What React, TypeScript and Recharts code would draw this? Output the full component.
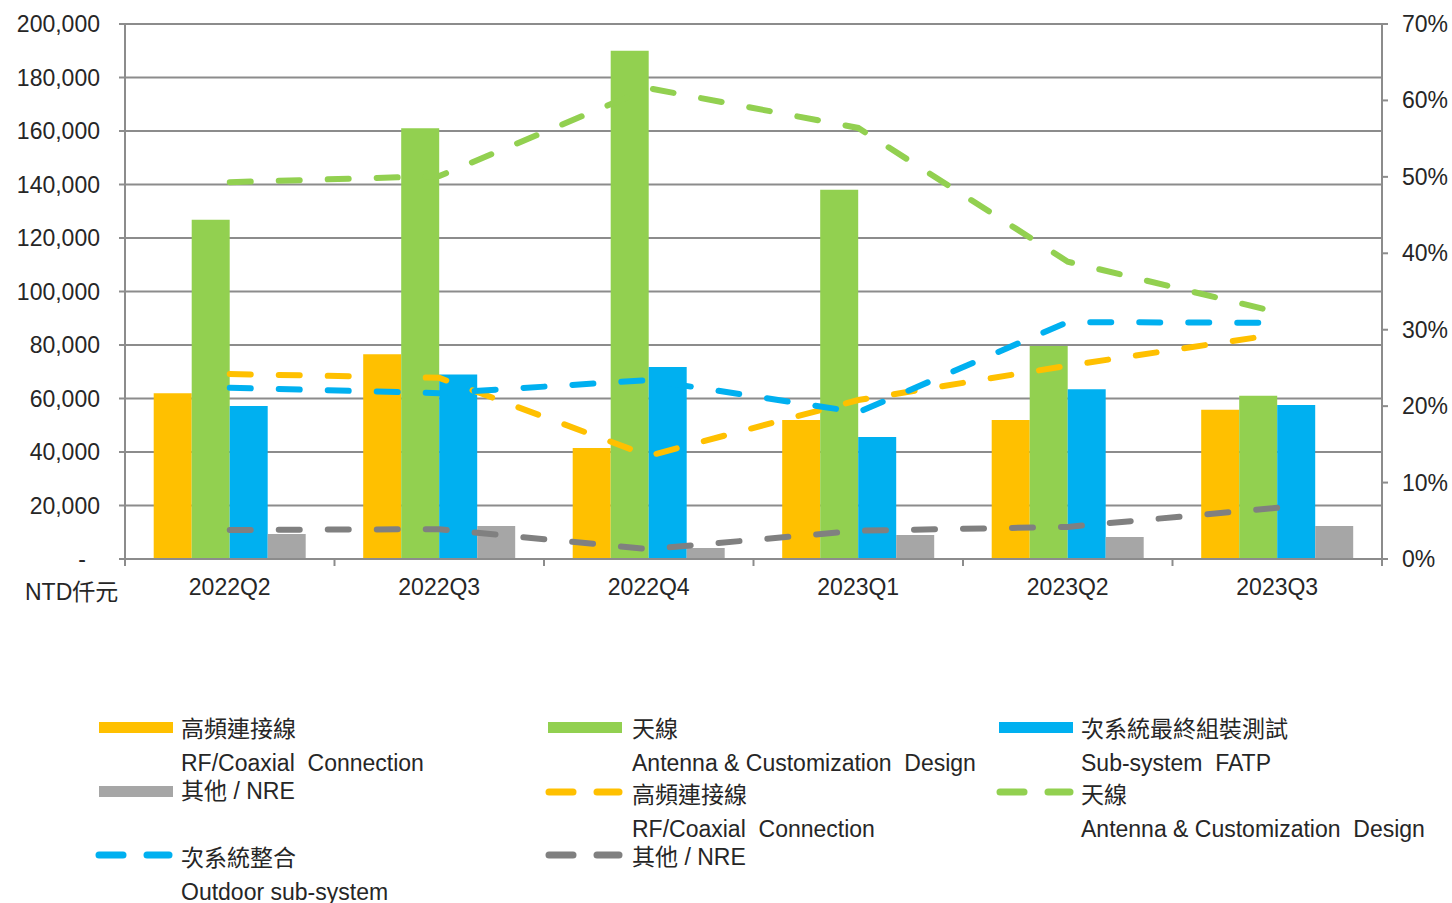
import React from "react";
import {
  ComposedChart,
  Bar,
  Line,
  XAxis,
  YAxis,
  CartesianGrid,
} from "recharts";

const quarters = ["2022Q2", "2022Q3", "2022Q4", "2023Q1", "2023Q2", "2023Q3"];

// revenue, NTD thousand
const rfRevenue = [62000, 76500, 41500, 52000, 52000, 55800];
const antennaRevenue = [126800, 161000, 190000, 138000, 79600, 61000];
const fatpRevenue = [57200, 69000, 71800, 45600, 63500, 57600];
const otherRevenue = [9300, 12300, 4100, 9000, 8200, 12300];

// share of total
const rfShare = [0.242, 0.237, 0.135, 0.208, 0.253, 0.294];
const antennaShare = [0.493, 0.501, 0.616, 0.564, 0.389, 0.323];
const outdoorShare = [0.224, 0.217, 0.234, 0.192, 0.31, 0.309];
const otherShare = [0.038, 0.039, 0.013, 0.037, 0.042, 0.067];

const leftTicks = [0, 20000, 40000, 60000, 80000, 100000, 120000, 140000, 160000, 180000, 200000];
const rightTicks = [0, 0.1, 0.2, 0.3, 0.4, 0.5, 0.6, 0.7];

const data = quarters.map((q, i) => ({
  quarter: q,
  rf: rfRevenue[i],
  antenna: antennaRevenue[i],
  fatp: fatpRevenue[i],
  other: otherRevenue[i],
  rfPct: rfShare[i],
  antennaPct: antennaShare[i],
  outdoorPct: outdoorShare[i],
  otherPct: otherShare[i],
}));

const ORANGE = "#FFC000";
const GREEN = "#92D050";
const BLUE = "#00B0F0";
const GRAY_BAR = "#A6A6A6";
const GRAY_LINE = "#808080";
const GRID = "#8C8C8C";
const TEXT = "#262626";
const FONT = '"Liberation Sans", Arial, "Noto Sans CJK TC", sans-serif';
const FS = 23;

const W = 1452;
const H = 620;
const LEFT_W = 125;
const RIGHT_W = 70;
const BAND = (W - LEFT_W - RIGHT_W) / quarters.length;

const XTick = (props: any) => {
  const { x, y, payload, index } = props;
  const last = index === quarters.length - 1;
  return (
    <g>
      <line x1={x - BAND / 2} y1={y} x2={x - BAND / 2} y2={y + 7} stroke={GRID} strokeWidth={2} />
      {last && (
        <line x1={x + BAND / 2} y1={y} x2={x + BAND / 2} y2={y + 7} stroke={GRID} strokeWidth={2} />
      )}
      <text x={x} y={y + 28} textAnchor="middle" dominantBaseline="central" fill={TEXT} fontSize={FS} fontFamily={FONT}>
        {payload.value}
      </text>
    </g>
  );
};

const LeftTick = (props: any) => {
  const { x, y, payload } = props;
  const v = payload.value;
  return (
    <text x={v === 0 ? x - 14 : x} y={y} textAnchor="end" dominantBaseline="central" fill={TEXT} fontSize={FS} fontFamily={FONT}>
      {v === 0 ? "-" : v.toLocaleString("en-US")}
    </text>
  );
};

const RightTick = (props: any) => {
  const { x, y, payload } = props;
  return (
    <text x={x} y={y} textAnchor="start" dominantBaseline="central" fill={TEXT} fontSize={FS} fontFamily={FONT}>
      {Math.round(payload.value * 100) + "%"}
    </text>
  );
};

const Swatch = ({ color, dashed }: { color: string; dashed?: boolean }) =>
  dashed ? (
    <svg width={78} height={8} style={{ display: "block" }}>
      <line x1={4} y1={4} x2={28} y2={4} stroke={color} strokeWidth={7} strokeLinecap="round" />
      <line x1={52} y1={4} x2={74} y2={4} stroke={color} strokeWidth={7} strokeLinecap="round" />
    </svg>
  ) : (
    <div style={{ width: 74, height: 11, background: color }} />
  );

const LegendItem = ({
  sx, sy, tx, ty, color, dashed, lines,
}: {
  sx: number; sy: number; tx: number; ty: number; color: string; dashed?: boolean; lines: string[];
}) => (
  <>
    <div style={{ position: "absolute", left: sx, top: sy - (dashed ? 4 : 5) }}>
      <Swatch color={color} dashed={dashed} />
    </div>
    <div
      style={{
        position: "absolute",
        left: tx,
        top: ty - 17,
        fontSize: FS,
        lineHeight: "34px",
        color: TEXT,
        fontFamily: FONT,
        whiteSpace: "pre",
      }}
    >
      {lines.map((l) => (
        <div key={l}>{l}</div>
      ))}
    </div>
  </>
);

const App = () => {
  return (
    <div style={{ position: "absolute", left: 0, top: 0, width: W, height: 903, background: "#fff", fontFamily: FONT }}>
      <ComposedChart
        width={W}
        height={H}
        data={data}
        margin={{ top: 24, right: 0, bottom: 21, left: 0 }}
        barCategoryGap="13.7%"
        barGap={0}
      >
        <CartesianGrid yAxisId="left" vertical={false} stroke={GRID} strokeWidth={2} />
        <XAxis
          dataKey="quarter"
          height={40}
          axisLine={{ stroke: GRID, strokeWidth: 2 }}
          tickLine={false}
          tickSize={0}
          tickMargin={0}
          tick={<XTick />}
          interval={0}
        />
        <YAxis
          yAxisId="left"
          width={LEFT_W}
          domain={[0, 200000]}
          ticks={leftTicks}
          interval={0}
          axisLine={{ stroke: GRID, strokeWidth: 2 }}
          tickLine={{ stroke: GRID, strokeWidth: 2 }}
          tickSize={6}
          tickMargin={19}
          tick={<LeftTick />}
        />
        <YAxis
          yAxisId="right"
          orientation="right"
          width={RIGHT_W}
          domain={[0, 0.7]}
          ticks={rightTicks}
          interval={0}
          axisLine={{ stroke: GRID, strokeWidth: 2 }}
          tickLine={{ stroke: GRID, strokeWidth: 2 }}
          tickSize={6}
          tickMargin={14}
          tick={<RightTick />}
        />
        <Bar yAxisId="left" dataKey="rf" fill={ORANGE} isAnimationActive={false} />
        <Bar yAxisId="left" dataKey="antenna" fill={GREEN} isAnimationActive={false} />
        <Bar yAxisId="left" dataKey="fatp" fill={BLUE} isAnimationActive={false} />
        <Bar yAxisId="left" dataKey="other" fill={GRAY_BAR} isAnimationActive={false} />
        <Line yAxisId="right" type="linear" dataKey="rfPct" stroke={ORANGE} strokeWidth={6} strokeDasharray="21 28" strokeLinecap="round" dot={false} isAnimationActive={false} />
        <Line yAxisId="right" type="linear" dataKey="antennaPct" stroke={GREEN} strokeWidth={6} strokeDasharray="21 28" strokeLinecap="round" dot={false} isAnimationActive={false} />
        <Line yAxisId="right" type="linear" dataKey="outdoorPct" stroke={BLUE} strokeWidth={6} strokeDasharray="21 28" strokeLinecap="round" dot={false} isAnimationActive={false} />
        <Line yAxisId="right" type="linear" dataKey="otherPct" stroke={GRAY_LINE} strokeWidth={6} strokeDasharray="21 28" strokeLinecap="round" dot={false} isAnimationActive={false} />
      </ComposedChart>

      <div style={{ position: "absolute", left: 25, top: 578, fontSize: FS, color: TEXT, fontFamily: FONT, lineHeight: "28px" }}>
        NTD仟元
      </div>

      <LegendItem sx={99} sy={727} tx={181} ty={729} color={ORANGE} lines={["高頻連接線", "RF/Coaxial  Connection"]} />
      <LegendItem sx={548} sy={727} tx={632} ty={729} color={GREEN} lines={["天線", "Antenna & Customization  Design"]} />
      <LegendItem sx={999} sy={727} tx={1081} ty={729} color={BLUE} lines={["次系統最終組裝測試", "Sub-system  FATP"]} />
      <LegendItem sx={99} sy={791} tx={181} ty={791} color={GRAY_BAR} lines={["其他 / NRE"]} />
      <LegendItem sx={545} sy={792} tx={632} ty={795} color={ORANGE} dashed lines={["高頻連接線", "RF/Coaxial  Connection"]} />
      <LegendItem sx={996} sy={792} tx={1081} ty={795} color={GREEN} dashed lines={["天線", "Antenna & Customization  Design"]} />
      <LegendItem sx={95} sy={855} tx={181} ty={858} color={BLUE} dashed lines={["次系統整合", "Outdoor sub-system"]} />
      <LegendItem sx={545} sy={855} tx={632} ty={857} color={GRAY_LINE} dashed lines={["其他 / NRE"]} />
    </div>
  );
};

export default App;
